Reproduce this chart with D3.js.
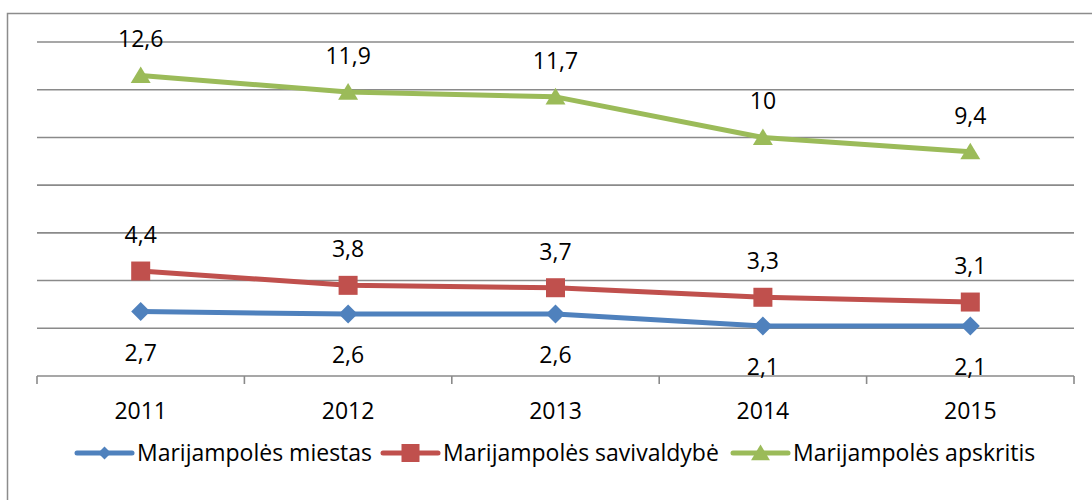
<!DOCTYPE html>
<html>
<head>
<meta charset="utf-8">
<script src="https://cdnjs.cloudflare.com/ajax/libs/d3/7.8.5/d3.min.js"></script>
<style>
  body { margin: 0; background: #fff; }
  svg text { font-family: "Open Sans", "Noto Sans", sans-serif; fill: #000; }
</style>
</head>
<body>
<div id="chart"></div>
<script>
// data
const years = ["2011", "2012", "2013", "2014", "2015"];
const miestas = [2.7, 2.6, 2.6, 2.1, 2.1];
const savivaldybe = [4.4, 3.8, 3.7, 3.3, 3.1];
const apskritis = [12.6, 11.9, 11.7, 10, 9.4];
const seriesNames = ["Marijampolės miestas", "Marijampolės savivaldybė", "Marijampolės apskritis"];
const yTicks = [0, 2, 4, 6, 8, 10, 12, 14];

const series = [
  { name: seriesNames[0], values: miestas, color: "#4f81bd", shape: "diamond", labelPos: "below", legendSize: 6.5 },
  { name: seriesNames[1], values: savivaldybe, color: "#c0504d", shape: "square", labelPos: "above", legendSize: 9 },
  { name: seriesNames[2], values: apskritis, color: "#9bbb59", shape: "triangle", labelPos: "above", legendSize: 9 }
];

const W = 1092, H = 500;
const margin = { left: 37, right: 18, top: 42, bottom: 124 };
const fontSize = 23;

const svg = d3.select("#chart").append("svg").attr("width", W).attr("height", H);

// outer frame
svg.append("rect")
  .attr("x", 7.5).attr("y", 13.5)
  .attr("width", 1100).attr("height", 520)
  .attr("fill", "none").attr("stroke", "#8c8c8c").attr("stroke-width", 1.5);

const x = d3.scaleBand().domain(years).range([margin.left, W - margin.right]);
const y = d3.scaleLinear().domain([0, 14]).range([H - margin.bottom, margin.top]);

// gridlines
svg.append("g").selectAll("line")
  .data(yTicks.filter(d => d > 0))
  .join("line")
  .attr("x1", margin.left).attr("x2", W - margin.right)
  .attr("y1", d => y(d)).attr("y2", d => y(d))
  .attr("stroke", "#8a8a8a").attr("stroke-width", 1.6);

// x axis
const xAxis = svg.append("g")
  .attr("transform", `translate(0,${y(0)})`)
  .call(d3.axisBottom(x).tickSize(0).tickPadding(0));
xAxis.select(".domain").remove();
xAxis.selectAll(".tick text").remove();
xAxis.append("line")
  .attr("x1", margin.left).attr("x2", W - margin.right)
  .attr("stroke", "#8a8a8a").attr("stroke-width", 1.6);
const bounds = years.map(d => x(d)).concat([x.range()[1]]);
xAxis.selectAll(".sep").data(bounds).join("line")
  .attr("class", "sep")
  .attr("x1", d => d).attr("x2", d => d)
  .attr("y1", 0).attr("y2", 8)
  .attr("stroke", "#8a8a8a").attr("stroke-width", 1.6);
xAxis.selectAll(".lbl").data(years).join("text")
  .attr("class", "lbl")
  .attr("x", d => x(d) + x.bandwidth() / 2)
  .attr("y", 43)
  .attr("text-anchor", "middle")
  .attr("font-size", fontSize)
  .text(d => d);

const cx = d => x(d) + x.bandwidth() / 2;

function drawMarker(g, shape, color, s) {
  if (shape === "diamond") {
    g.append("path").attr("d", `M0,${-s}L${s},0L0,${s}L${-s},0Z`).attr("fill", color);
  } else if (shape === "square") {
    g.append("rect").attr("x", -s).attr("y", -s).attr("width", 2 * s).attr("height", 2 * s).attr("fill", color);
  } else {
    g.append("path").attr("d", `M0,${-s * 0.95}L${s * 1.05},${s * 0.8}L${-s * 1.05},${s * 0.8}Z`).attr("fill", color);
  }
}

const line = d3.line().x((d, i) => cx(years[i])).y(d => y(d));

series.forEach(s => {
  const g = svg.append("g");
  g.append("path")
    .attr("d", line(s.values))
    .attr("fill", "none")
    .attr("stroke", s.color)
    .attr("stroke-width", 5)
    .attr("stroke-linejoin", "round");
  s.values.forEach((v, i) => {
    const m = g.append("g").attr("transform", `translate(${cx(years[i])},${y(v)})`);
    drawMarker(m, s.shape, s.color, 9.5);
  });
  g.selectAll("text").data(s.values).join("text")
    .attr("x", (d, i) => cx(years[i]))
    .attr("y", d => s.labelPos === "above" ? y(d) - 28 : y(d) + 49)
    .attr("text-anchor", "middle")
    .attr("font-size", fontSize)
    .text(d => String(d).replace(".", ","));
});

// legend
const legendX = [77, 383, 733];
const legend = svg.append("g").attr("transform", "translate(0,453)");
series.forEach((s, i) => {
  const lg = legend.append("g").attr("transform", `translate(${legendX[i]},0)`);
  lg.append("line").attr("x1", 0).attr("x2", 55)
    .attr("stroke", s.color).attr("stroke-width", 5).attr("stroke-linecap", "round");
  const m = lg.append("g").attr("transform", "translate(27.5,0)");
  drawMarker(m, s.shape, s.color, s.legendSize);
  lg.append("text").attr("x", 60).attr("y", 8)
    .attr("font-size", fontSize)
    .text(s.name);
});
</script>
</body>
</html>
